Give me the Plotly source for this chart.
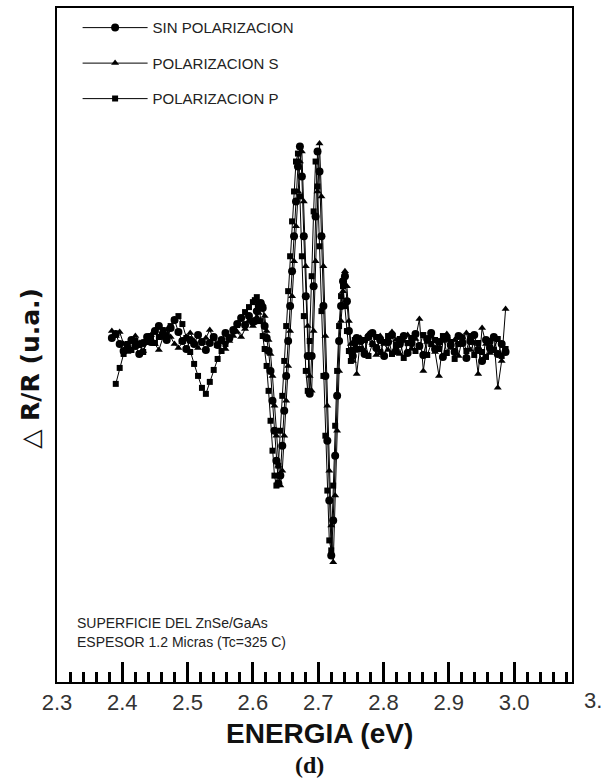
import plotly.graph_objects as go

# Photon energy grid (eV)
E_LOW = [2.384, 2.390, 2.396, 2.402, 2.408, 2.414, 2.420, 2.426, 2.432, 2.438,
         2.444, 2.450, 2.456, 2.462, 2.468, 2.474, 2.480, 2.486, 2.492, 2.498,
         2.504, 2.510, 2.516, 2.522, 2.528, 2.534, 2.540, 2.546, 2.552, 2.558,
         2.564, 2.570, 2.576, 2.582, 2.588, 2.594, 2.600]
E_MID = [2.603, 2.606, 2.609, 2.612, 2.615, 2.618, 2.621, 2.624, 2.627, 2.630,
         2.633, 2.636, 2.639, 2.642, 2.645, 2.648, 2.651, 2.654, 2.657, 2.660,
         2.663, 2.666, 2.669, 2.672, 2.675, 2.678, 2.681, 2.684, 2.687, 2.690,
         2.693, 2.696, 2.699, 2.702, 2.705, 2.708, 2.711, 2.714, 2.717, 2.720,
         2.723, 2.726, 2.729, 2.732, 2.735, 2.738, 2.741, 2.744, 2.747, 2.750,
         2.753, 2.756, 2.759]
E_HIGH = [2.765, 2.771, 2.777, 2.783, 2.789, 2.795, 2.801, 2.807, 2.813, 2.819,
          2.825, 2.831, 2.837, 2.843, 2.849, 2.855, 2.861, 2.867, 2.873, 2.879,
          2.885, 2.891, 2.897, 2.903, 2.909, 2.915, 2.921, 2.927, 2.933, 2.939,
          2.945, 2.951, 2.957, 2.963, 2.969, 2.975, 2.981, 2.987]

# Delta R/R (arbitrary units)
SIN_LOW = [0.8, 1.2, 0.2, -0.5, -0.2, 0.6, 0.0, -0.8, 0.3, 0.9, 0.4, 1.5, 2.0, 1.2,
           0.6, 1.8, 2.6, 1.4, 0.5, -0.3, 0.6, 0.2, 1.1, 0.4, -0.4, 0.3, 0.9, 0.1,
           0.6, 1.3, 0.8, 1.6, 2.2, 2.8, 2.1, 3.0, 2.4]
SIN_MID = [2.5, 3.5, 4.0, 4.3, 3.8, 2.0, 0.8, -0.5, -2.5, -5.5, -8.5, -11.5, -13.8,
           -13.0, -10.0, -6.5, -3.0, 0.5, 4.0, 7.5, 11.0, 14.5, 18.0, 20.0, 17.0,
           11.0, 5.0, -1.0, -4.8, -1.0, 6.0, 13.0, 19.5, 17.5, 11.0, 4.0, -3.0,
           -9.5, -15.5, -21.0, -17.5, -11.0, -5.0, 0.5, 4.0, 6.5, 7.0, 4.5, 1.5,
           -0.5, -1.0, 0.3, 0.8]
SIN_HIGH = [0.5, -0.8, 0.9, 1.3, -0.2, 0.6, -1.0, 0.4, 1.1, -0.5, 0.2, 1.0, -0.7,
            0.3, 1.2, 0.0, -0.9, 0.7, 1.3, -0.3, 0.4, -1.1, 0.8, 0.1, -0.6, 1.0,
            0.3, -1.2, 0.5, 1.1, -0.4, -1.5, 0.6, -0.2, 0.9, -0.8, 0.2, -0.6]

S_LOW = [1.5, 1.0, 1.4, 0.2, -0.6, 0.5, 1.0, 0.3, -0.5, 0.6, 1.1, 0.2, -0.4, 0.8,
         1.6, 0.9, 0.2, -0.2, 0.4, 0.9, 1.3, 0.5, -0.2, 0.3, 0.8, 1.6, 0.7, 0.0,
         0.4, -0.3, 0.5, 1.0, 1.4, 0.9, 1.7, 2.5, 2.0]
S_MID = [2.4, 2.9, 3.3, 3.8, 4.2, 3.0, 1.5, 0.6, -0.8, -3.0, -6.0, -9.0, -12.0,
         -14.0, -12.5, -9.0, -5.5, -2.0, 1.5, 5.0, 8.5, 12.0, 15.5, 18.5, 19.5,
         14.5, 8.0, 2.0, -3.0, -4.5, 1.5, 8.5, 15.5, 20.3, 15.0, 8.0, 1.0, -6.0,
         -12.5, -18.0, -21.7, -15.0, -8.5, -2.5, 2.5, 5.5, 7.5, 6.0, 2.5, 0.2,
         -1.5, -0.5, -2.8]
S_HIGH = [0.8, -0.5, 1.2, 0.3, -0.9, 1.0, 0.2, -0.4, 1.4, 0.6, -0.8, 0.5, 1.1,
          -0.3, 0.7, 2.7, -2.5, 0.4, 1.0, -0.6, -3.0, 0.5, 1.2, -0.2, 0.6, -1.0,
          0.9, 1.3, -0.4, 0.3, -2.8, 1.8, 0.2, -0.7, 0.8, -4.2, -1.5, 3.7]

P_LOW = [None, -3.8, -2.2, -0.8, 0.2, -0.4, 0.5, 0.1, -0.6, 0.4, 1.0, 0.3, 0.9,
         1.6, 1.1, 2.0, 2.6, 3.0, 2.2, 0.8, -0.6, -1.8, -3.0, -4.2, -4.8, -3.6,
         -2.4, -1.3, -0.5, 0.2, 0.8, 1.5, 2.1, 2.8, 3.4, 3.9, 4.4]
P_MID = [4.6, 4.9, 4.2, 2.5, 1.0, -0.3, -2.0, -4.5, -7.5, -10.5, -13.0, -14.0,
         -12.0, -8.5, -5.0, -1.5, 2.0, 5.5, 9.0, 12.5, 15.5, 18.5, 19.3, 15.0,
         9.0, 3.0, -2.5, -4.5, 0.5, 7.0, 13.5, 18.5, 16.0, 10.0, 3.5, -3.0, -9.0,
         -14.5, -19.5, -20.5, -14.0, -8.0, -2.5, 2.0, 5.0, 6.0, 4.0, 1.5, -0.5,
         -1.5, -0.4, 0.6, -0.3]
P_HIGH = [-0.3, 0.6, -1.0, 0.2, 0.9, -0.6, 0.4, 1.0, -0.8, 0.1, 0.7, -1.2, 0.3,
          0.8, -0.5, 0.0, 1.1, -0.9, 0.2, 0.6, -0.3, 1.0, -0.7, 0.4, -1.3, 0.2,
          0.8, -0.5, 1.0, -0.9, 0.3, -0.6, -1.1, 0.5, -0.4, 0.7, -1.0, -0.3]

X_TICKS = [2.3, 2.4, 2.5, 2.6, 2.7, 2.8, 2.9, 3.0]
X_TICK_TEXT = ["2.3", "2.4", "2.5", "2.6", "2.7", "2.8", "2.9", "3.0"]
X_MINOR = [2.32, 2.34, 2.36, 2.38, 2.42, 2.44, 2.46, 2.48, 2.52, 2.54, 2.56, 2.58,
           2.62, 2.64, 2.66, 2.68, 2.72, 2.74, 2.76, 2.78, 2.82, 2.84, 2.86, 2.88,
           2.92, 2.94, 2.96, 2.98, 3.02, 3.04, 3.06, 3.08]

energy = E_LOW + E_MID + E_HIGH
sin_pol = SIN_LOW + SIN_MID + SIN_HIGH
pol_s = S_LOW + S_MID + S_HIGH
pol_p = P_LOW + P_MID + P_HIGH
assert len(E_LOW) == len(SIN_LOW) == len(S_LOW) == len(P_LOW)
assert len(E_MID) == len(SIN_MID) == len(S_MID) == len(P_MID)
assert len(E_HIGH) == len(SIN_HIGH) == len(S_HIGH) == len(P_HIGH)

FONT = "Liberation Sans, Arial, sans-serif"
fig = go.Figure()
series = [
    ("SIN POLARIZACION", sin_pol, "circle", 8),
    ("POLARIZACION S", pol_s, "triangle-up", 7),
    ("POLARIZACION P", pol_p, "square", 6),
]
for i, (name, vals, sym, size) in enumerate(series):
    fig.add_trace(go.Scatter(
        x=energy, y=vals, name=name, mode="lines+markers",
        line=dict(color="black", width=1),
        marker=dict(symbol=sym, size=size, color="black"),
        legendgroup=str(i),
    ))

fig.update_layout(
    width=603, height=780,
    margin=dict(l=57, r=31, t=6, b=98),
    paper_bgcolor="white", plot_bgcolor="white",
    font=dict(family=FONT, color="#222"),
    showlegend=True,
    legend=dict(x=0.04, y=0.995, xanchor="left", yanchor="top",
                bgcolor="rgba(0,0,0,0)", font=dict(size=15, color="#222"),
                traceorder="grouped", tracegroupgap=13, itemwidth=65),
    xaxis=dict(range=[2.3, 3.0887], tickmode="array", tickvals=X_TICKS, ticktext=X_TICK_TEXT,
               ticks="inside", ticklen=20, tickwidth=2.5, tickcolor="black",
               minor=dict(tickmode="array", tickvals=X_MINOR, ticks="inside",
                          ticklen=10, tickwidth=2.5, tickcolor="black"),
               showline=True, linecolor="black", linewidth=2, mirror=True,
               showgrid=False, zeroline=False,
               tickfont=dict(size=22, color="#333")),
    yaxis=dict(range=[-33.7, 33.9], showticklabels=False, ticks="",
               showline=True, linecolor="black", linewidth=2, mirror=True,
               showgrid=False, zeroline=False),
)

annotations = [
    dict(text="<b>ENERGIA (eV)</b>", x=0.509, y=-0.077, font=dict(size=28, color="#111")),
    dict(text="<b>(d)</b>", x=0.491, y=-0.1228, font=dict(size=24, color="#111", family="Liberation Serif, Times New Roman, serif")),
    dict(text="<b>△ R/R (u.a.)</b>", x=-0.052, y=0.465, textangle=-90, font=dict(size=25, color="#111", family="DejaVu Sans, sans-serif")),
    dict(text="SUPERFICIE DEL ZnSe/GaAs", x=0.035, y=0.087, xanchor="left", font=dict(size=14, color="#222")),
    dict(text="ESPESOR 1.2 Micras (Tc=325 C)", x=0.035, y=0.059, xanchor="left", font=dict(size=14, color="#222")),
    dict(text="3.1", x=1.02, y=-0.028, xanchor="left", font=dict(size=22, color="#333")),
]
for a in annotations:
    a.setdefault("xanchor", "center")
    fig.add_annotation(xref="paper", yref="paper", showarrow=False, yanchor="middle", **a)

fig.write_html("out.html")
